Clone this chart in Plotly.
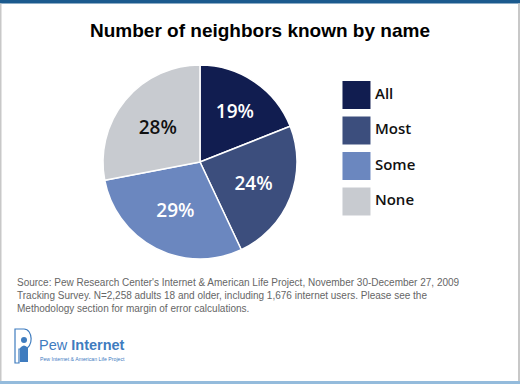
import plotly.graph_objects as go

# ---- data ----
categories = ["All", "Most", "Some", "None"]
values = [19, 24, 29, 28]
colors = ["#111d50", "#3c4e7d", "#6b87bf", "#c8cbd0"]
label_colors = ["#ffffff", "#ffffff", "#ffffff", "#111111"]
title_text = "Number of neighbors known by name"
source_lines = [
    "Source: Pew Research Center's Internet & American Life Project, November 30-December 27, 2009",
    "Tracking Survey. N=2,258 adults 18 and older, including 1,676 internet users. Please see the",
    "Methodology section for margin of error calculations.",
]

W, H = 520, 384
fig = go.Figure()

# Pie: center (200,162) px from top-left, radius 97
cx, cy, r = 200, 162, 97
fig.add_trace(go.Pie(
    labels=categories,
    values=values,
    sort=False,
    direction="clockwise",
    rotation=0,
    marker=dict(colors=colors, line=dict(color="white", width=1.5)),
    texttemplate="%{value}%",
    textposition="inside",
    insidetextorientation="horizontal",
    textfont=dict(family="Open Sans", size=19, color=label_colors, weight=600),
    domain=dict(x=[(cx - r) / W, (cx + r) / W], y=[(H - cy - r) / H, (H - cy + r) / H]),
    showlegend=False,
    hoverinfo="label+percent",
))

# Legend built as a scatter of big squares
fig.add_trace(go.Scatter(
    x=[0] * len(categories),
    y=categories,
    mode="markers+text",
    marker=dict(symbol="square", size=28, color=colors),
    text=categories,
    textposition="middle right",
    textfont=dict(family="Open Sans", size=15, color="#111111", weight=600),
    cliponaxis=False,
    showlegend=False,
    hoverinfo="skip",
))

leg_top, leg_bot = 77.25, 219.25
fig.update_layout(
    width=W, height=H,
    margin=dict(l=0, r=0, t=0, b=0),
    paper_bgcolor="white",
    plot_bgcolor="rgba(0,0,0,0)",
    xaxis=dict(domain=[0.6, 1.0], range=[-2.78, 10.22], visible=False, fixedrange=True),
    yaxis=dict(domain=[(H - leg_bot) / H, (H - leg_top) / H], type="category",
               range=[3.5, -0.5], visible=False, fixedrange=True),
    title=dict(text="<b>" + title_text + "</b>", x=0.5, xanchor="center",
               y=1 - 30 / H, yanchor="middle",
               font=dict(family="Liberation Sans, Arial", size=19, color="#000000")),
)

# Source note
fig.add_annotation(
    text="<br>".join(source_lines), xref="paper", yref="paper",
    x=15 / W, y=1 - 275 / H, xanchor="left", yanchor="top", align="left",
    showarrow=False, font=dict(family="Liberation Sans, Arial", size=10, color="#666666"),
)

# Logo text
fig.add_annotation(
    text="Pew <b>Internet</b>", xref="paper", yref="paper",
    x=37 / W, y=1 - 345 / H, xanchor="left", yanchor="middle",
    showarrow=False, font=dict(family="Liberation Sans, Arial", size=14.5, color="#3f7cbf"),
)
fig.add_annotation(
    text="Pew Internet &amp; American Life Project", xref="paper", yref="paper",
    x=38 / W, y=1 - 359 / H, xanchor="left", yanchor="middle",
    showarrow=False, font=dict(family="Liberation Sans, Arial", size=5.2, color="#3f7cbf"),
)

def px(x):
    return x / W

def py(y):
    return 1 - y / H

shapes = []
# logo icon: P outline
shapes.append(dict(type="path", xref="paper", yref="paper",
                   path=f"M {px(15)},{py(363)} L {px(15)},{py(329)} L {px(24)},{py(329)} "
                        f"C {px(33)},{py(329)} {px(34)},{py(348)} {px(24)},{py(349)} "
                        f"L {px(19)},{py(349)} L {px(19)},{py(363)} Z",
                   line=dict(color="#3f7cbf", width=1.2), fillcolor="rgba(0,0,0,0)"))
shapes.append(dict(type="circle", xref="paper", yref="paper",
                   x0=px(21), x1=px(27), y0=py(343), y1=py(337),
                   fillcolor="#3f7cbf", line=dict(width=0)))
shapes.append(dict(type="path", xref="paper", yref="paper",
                   path=f"M {px(20)},{py(362)} L {px(20)},{py(348)} Q {px(24)},{py(343)} {px(28)},{py(348)} "
                        f"L {px(28)},{py(362)} Z",
                   fillcolor="#3f7cbf", line=dict(width=0)))
# frame: top dark bar, bottom light bar, side borders
shapes.append(dict(type="rect", xref="paper", yref="paper", x0=0, x1=1, y0=py(3.5), y1=1,
                   fillcolor="#1b5a8e", line=dict(width=0)))
shapes.append(dict(type="rect", xref="paper", yref="paper", x0=0, x1=1, y0=0, y1=py(381),
                   fillcolor="#94bbdc", line=dict(width=0)))
shapes.append(dict(type="rect", xref="paper", yref="paper", x0=0, x1=px(1.5), y0=py(381), y1=py(3.5),
                   fillcolor="#c8c8c8", line=dict(width=0)))
shapes.append(dict(type="rect", xref="paper", yref="paper", x0=px(518), x1=1, y0=py(381), y1=py(3.5),
                   fillcolor="#c8c8c8", line=dict(width=0)))
fig.update_layout(shapes=shapes)

fig.write_html("out.html",
               config={"displayModeBar": False},
               post_script="document.body.style.margin='0px';document.body.style.overflow='hidden';")
